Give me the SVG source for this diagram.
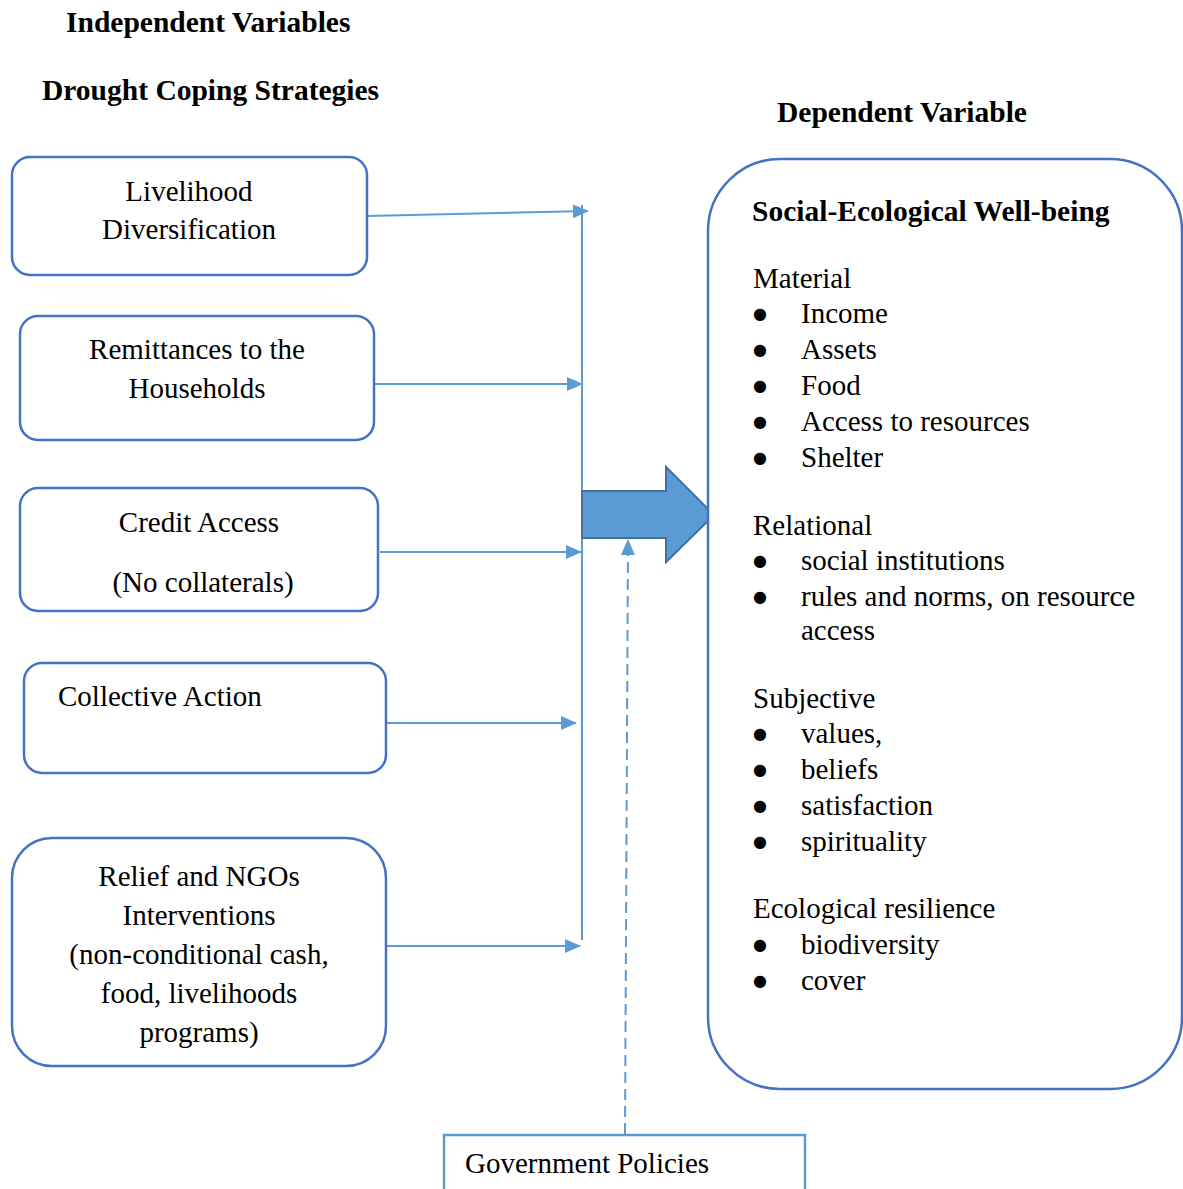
<svg xmlns="http://www.w3.org/2000/svg" width="1183" height="1189" viewBox="0 0 1183 1189">
<style>
text{font-family:"Liberation Serif","Times New Roman",serif;font-size:29px;fill:#000}
.b{font-weight:bold;font-size:29.5px}
.m{text-anchor:middle}
.bu{font-family:"DejaVu Sans",sans-serif;font-size:16px;text-anchor:middle}
.box{fill:#fff;stroke:#4472C4;stroke-width:2.5}
.con{stroke:#5B9BD5;stroke-width:2;fill:none}
</style>
<defs>
<marker id="ah2" markerWidth="16" markerHeight="16" refX="15" refY="8" orient="auto" markerUnits="userSpaceOnUse" viewBox="0 0 16 16">
<path d="M0,1 L16,8 L0,15 z" fill="#5B9BD5"/>
</marker>
</defs>
<rect width="1183" height="1189" fill="#fff"/>
<text class="b" x="66" y="32">Independent Variables</text>
<text class="b" x="42" y="100">Drought Coping Strategies</text>
<text class="b" x="777" y="122">Dependent Variable</text>

<g id="connectors">
<line class="con" x1="582" y1="205" x2="582" y2="940" stroke-width="1.5"/>
<line class="con" x1="367" y1="216" x2="588" y2="211" marker-end="url(#ah2)"/>
<line class="con" x1="371" y1="384" x2="582" y2="384" marker-end="url(#ah2)"/>
<line class="con" x1="380" y1="552" x2="581" y2="552" marker-end="url(#ah2)"/>
<line class="con" x1="386" y1="723" x2="576" y2="723" marker-end="url(#ah2)"/>
<line class="con" x1="386" y1="946" x2="580" y2="946" marker-end="url(#ah2)"/>
<line class="con" x1="625" y1="1134" x2="628" y2="540" stroke-dasharray="11,6" stroke-width="2.5" marker-end="url(#ah2)"/>
<path d="M582,491 L666,491 L666,467 L714,515 L666,562 L666,538 L582,538 Z" fill="#5B9BD5" stroke="#41719C" stroke-width="2"/>
</g>

<g id="livelihood">
<rect class="box" x="12" y="157" width="355" height="118" rx="18"/>
<text class="m" x="189" y="201">Livelihood</text>
<text class="m" x="189" y="239">Diversification</text>
</g>
<g id="remittances">
<rect class="box" x="20" y="316" width="354" height="124" rx="18"/>
<text class="m" x="197" y="359">Remittances to the</text>
<text class="m" x="197" y="398">Households</text>
</g>
<g id="credit">
<rect class="box" x="20" y="488" width="358" height="123" rx="18"/>
<text class="m" x="199" y="532">Credit Access</text>
<text class="m" x="203" y="592">(No collaterals)</text>
</g>
<g id="collective">
<rect class="box" x="24" y="663" width="362" height="110" rx="18"/>
<text x="58" y="706">Collective Action</text>
</g>
<g id="relief">
<rect class="box" x="12" y="838" width="374" height="228" rx="40"/>
<text class="m" x="199" y="886">Relief and NGOs</text>
<text class="m" x="199" y="925">Interventions</text>
<text class="m" x="199" y="964">(non-conditional cash,</text>
<text class="m" x="199" y="1003">food, livelihoods</text>
<text class="m" x="199" y="1042">programs)</text>
</g>
<g id="wellbeing">
<rect class="box" x="708" y="159" width="474" height="930" rx="72"/>
<text class="b" x="752" y="221">Social-Ecological Well-being</text>
<text x="753" y="288">Material</text>
<text class="bu" x="760" y="319">●</text><text x="801" y="323">Income</text>
<text class="bu" x="760" y="355">●</text><text x="801" y="359">Assets</text>
<text class="bu" x="760" y="391">●</text><text x="801" y="395">Food</text>
<text class="bu" x="760" y="427">●</text><text x="801" y="431">Access to resources</text>
<text class="bu" x="760" y="463">●</text><text x="801" y="467">Shelter</text>
<text x="753" y="535">Relational</text>
<text class="bu" x="760" y="566">●</text><text x="801" y="570">social institutions</text>
<text class="bu" x="760" y="602">●</text><text x="801" y="606">rules and norms, on resource</text>
<text x="801" y="640">access</text>
<text x="753" y="708">Subjective</text>
<text class="bu" x="760" y="739">●</text><text x="801" y="743">values,</text>
<text class="bu" x="760" y="775">●</text><text x="801" y="779">beliefs</text>
<text class="bu" x="760" y="811">●</text><text x="801" y="815">satisfaction</text>
<text class="bu" x="760" y="847">●</text><text x="801" y="851">spirituality</text>
<text x="753" y="918">Ecological resilience</text>
<text class="bu" x="760" y="950">●</text><text x="801" y="954">biodiversity</text>
<text class="bu" x="760" y="986">●</text><text x="801" y="990">cover</text>
</g>
<g id="government">
<path d="M444,1195 L444,1135 L805,1135 L805,1195" fill="#fff" stroke="#5B9BD5" stroke-width="2.5"/>
<text x="465" y="1173">Government Policies</text>
</g>
</svg>
